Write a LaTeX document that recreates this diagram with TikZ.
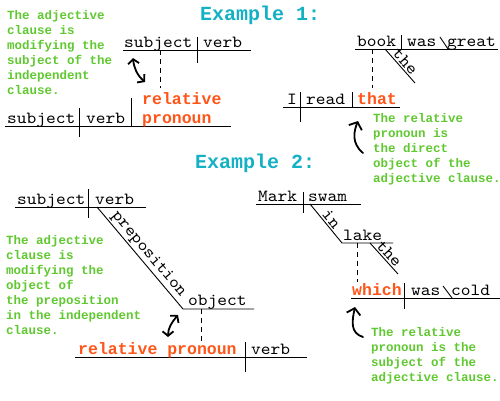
\documentclass[tikz,border=0pt]{standalone}
\usepackage{fontspec}
\setmainfont{Liberation Mono}
\newfontfamily\wordfont{lmmono10-regular.otf}[FakeStretch=1.09]
\usetikzlibrary{arrows.meta}
\definecolor{titlec}{RGB}{20,176,196}
\definecolor{noteg}{RGB}{96,200,48}
\definecolor{relo}{RGB}{255,85,25}
\begin{document}
\begin{tikzpicture}[x=1pt,y=-1pt,
  wfont/.style={font=\fontsize{17}{17}\wordfont},
  word/.style={inner sep=0pt, anchor=base west, wfont},
  rel/.style={inner sep=0pt, anchor=base west, text=relo, font=\fontsize{16.5}{16}\selectfont\bfseries},
  note/.style={inner sep=0pt, anchor=base west, align=left, text=noteg, font=\fontsize{12.5}{15}\selectfont\bfseries},
  ttl/.style={inner sep=0pt, anchor=base west, text=titlec, font=\fontsize{20}{20}\selectfont\bfseries},
  ln/.style={line width=0.9pt},
  dsh/.style={line width=0.9pt, dash pattern=on 5pt off 4pt},
  slab/.style={sloped, above, inner sep=1.5pt, wfont},
  hand/.style={line width=1.8pt, line cap=round, line join=round},
  dbl/.style={hand, {Straight Barb[length=4.5pt,width=11pt]}-{Straight Barb[length=4.5pt,width=11pt]}},
  up/.style={hand, -{Straight Barb[length=6pt,width=14pt]}},
]
\useasboundingbox (0,0) rectangle (500,400);
% titles
\node[ttl] (t1) at (200,20) {Example 1:};
\node[ttl] (t2) at (195,168) {Example 2:};

% ---- Example 1, left ----
\node[note] (n1) at (7,94) {The adjective\\clause is\\modifying the\\subject of the\\independent\\clause.};
\draw[ln] (123,50) -- (251,50);
\draw[ln] (197,37) -- (197,63);
\node[word] (s1) at (124,47) {subject};
\node[word] (v1) at (203,47) {verb};
\draw[dsh] (160,50) -- (160,88);
\draw[dbl] (133,58) .. controls (134,68) and (137,75) .. (145,82);
\draw[ln] (5,126) -- (231,126);
\draw[ln] (79,108) -- (79,137);
\draw[ln] (131,98) -- (131,126);
\node[word] (s2) at (7,123) {subject};
\node[word] (v2) at (86,123) {verb};
\node[rel] (r1) at (142,104) {relative};
\node[rel] (r2) at (142,123) {pronoun};

% ---- Example 1, right ----
\draw[ln] (355,49) -- (498,49);
\draw[ln] (401,35) -- (401,49);
\draw[ln] (440,37) -- (448,49);
\node[word] (bk) at (357,46) {book};
\node[word] (ws) at (407,46) {was};
\node[word] (gr) at (447,46) {great};
\draw[ln] (385,49) -- node[slab] (th1) {the} (415,83);
\draw[dsh] (372,49) -- (372,88);
\draw[ln] (283,107) -- (400,107);
\draw[ln] (300,92) -- (300,122);
\draw[ln] (352,92) -- (352,107);
\node[word] (ii) at (287,104) {I};
\node[word] (rd) at (306,104) {read};
\node[rel] (tt) at (357,104) {that};
\draw[up] (363,153) .. controls (351,143) and (354,131) .. (358,121);
\node[note] (n2) at (373,182) {The relative\\pronoun is\\the direct\\object of the\\adjective clause.};

% ---- Example 2, left ----
\node[note] (n3) at (6,334) {The adjective\\clause is\\modifying the\\object of\\the preposition\\in the independent\\clause.};
\draw[ln] (15,207) -- (146,207);
\draw[ln] (88,189) -- (88,218);
\node[word] (s3) at (17,204) {subject};
\node[word] (v3) at (95,204) {verb};
\draw[ln] (97,207) -- node[slab, pos=0.52] (pp) {preposition} (183,309) -- (254,309);
\node[word] (ob) at (188,305) {object};
\draw[dsh] (201,309) -- (201,342);
\draw[dbl] (168,337) .. controls (168,328) and (172,322) .. (178,315);
\draw[ln] (75,357) -- (307,357);
\draw[ln] (245,342) -- (245,372);
\node[rel] (rp) at (78,354) {relative pronoun};
\node[word] (v4) at (251,354) {verb};

% ---- Example 2, right ----
\draw[ln] (256,204) -- (361,204);
\draw[ln] (303,192) -- (303,213);
\node[word] (mk) at (258,201) {Mark};
\node[word] (sw) at (308,201) {swam};
\draw[ln] (310,204) -- node[slab] (in) {in} (342,243) -- (393,243);
\node[word] (lk) at (343,240) {lake};
\draw[ln] (370,243) -- node[slab] (th2) {the} (398,274);
\draw[dsh] (357,243) -- (357,282);
\draw[ln] (351,298) -- (500,298);
\draw[ln] (404,283) -- (404,309);
\draw[ln] (443,286) -- (452,298);
\node[rel] (wh) at (352,295) {which};
\node[word] (ws2) at (411,295) {was};
\node[word] (cd) at (451,295) {cold};
\draw[up] (363,337) .. controls (350,333) and (352,321) .. (355,307);
\node[note] (n4) at (371,381) {The relative\\pronoun is the\\subject of the\\adjective clause.};
\end{tikzpicture}
\end{document}
